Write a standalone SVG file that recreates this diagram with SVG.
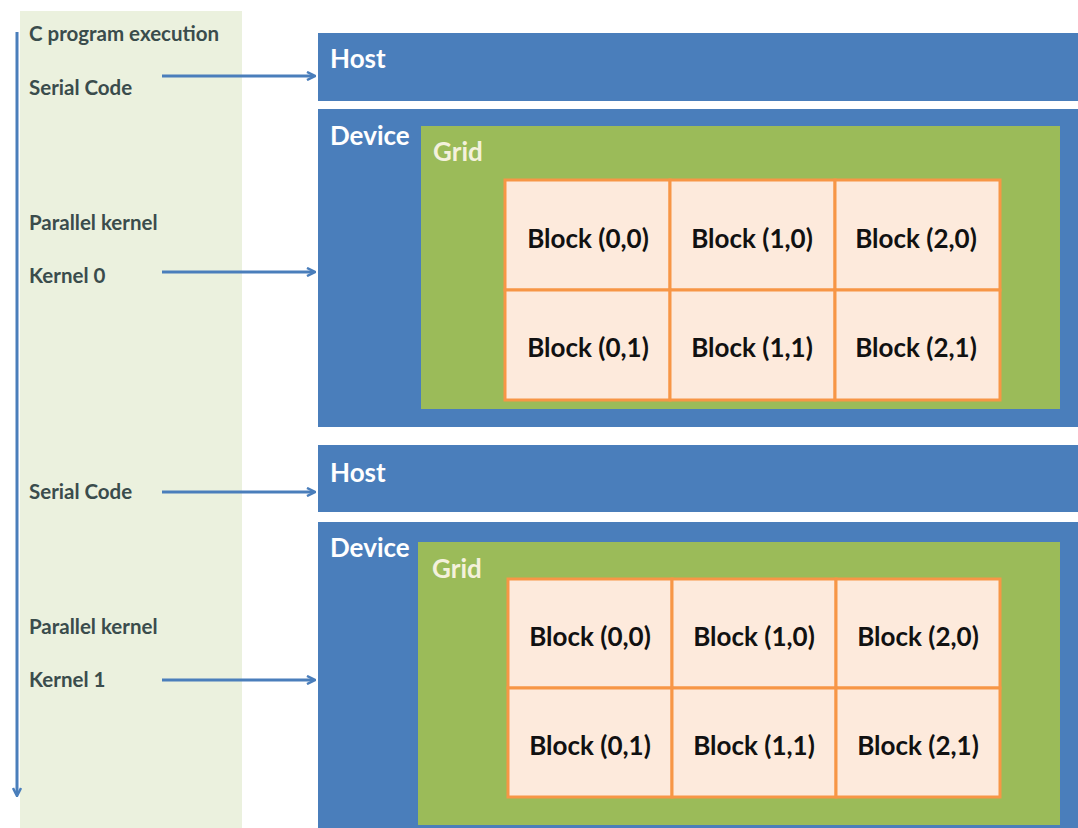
<svg xmlns="http://www.w3.org/2000/svg" width="1078" height="828" viewBox="0 0 1078 828">
<style>
.lbl{font-family:Lato,"Open Sans",sans-serif;font-weight:bold;font-size:20.5px;fill:#3a4c4c}
.hd{font-family:Lato,"Open Sans",sans-serif;font-weight:bold;font-size:26px;fill:#ffffff}
.gd{font-family:Lato,"Open Sans",sans-serif;font-weight:bold;font-size:26px;fill:#f4f1dc}
.blk{font-family:Lato,"Open Sans",sans-serif;font-weight:bold;font-size:26px;fill:#111111;text-anchor:middle}
.blue{fill:#4a7ebb}
.green{fill:#9bbb59}
.cell{fill:#fdeadc;stroke:#f79646;stroke-width:3}
.conn{stroke:#4a7ebb;stroke-width:3;fill:none}
</style>
<defs>
<marker id="ah" markerWidth="10" markerHeight="10" refX="8" refY="5" orient="auto" markerUnits="userSpaceOnUse">
<path d="M1,1 L9,5 L1,9" fill="none" stroke="#4a7ebb" stroke-width="2.5"/>
</marker>
</defs>
<rect width="1078" height="828" fill="#ffffff"/>
<g id="timeline">
<rect x="20" y="11" width="222" height="817" fill="#ebf1de"/>
<text class="lbl" x="29" y="41">C program execution</text>
<text class="lbl" x="29" y="95">Serial Code</text>
<text class="lbl" x="29" y="230">Parallel kernel</text>
<text class="lbl" x="29" y="283">Kernel 0</text>
<text class="lbl" x="29" y="499">Serial Code</text>
<text class="lbl" x="29" y="634">Parallel kernel</text>
<text class="lbl" x="29" y="687">Kernel 1</text>
</g>
<g id="host1">
<rect class="blue" x="318" y="33" width="760" height="68"/>
<text class="hd" x="330" y="68">Host</text>
</g>
<g id="device1">
<rect class="blue" x="318" y="109" width="760" height="318"/>
<text class="hd" x="330" y="145">Device</text>
<g id="grid1">
<rect class="green" x="421" y="126" width="639" height="283"/>
<text class="gd" x="433" y="161">Grid</text>
<rect class="cell" x="505" y="180" width="165" height="110"/>
<rect class="cell" x="670" y="180" width="165" height="110"/>
<rect class="cell" x="835" y="180" width="165" height="110"/>
<rect class="cell" x="505" y="290" width="165" height="110"/>
<rect class="cell" x="670" y="290" width="165" height="110"/>
<rect class="cell" x="835" y="290" width="165" height="110"/>
<text class="blk" x="588" y="248">Block (0,0)</text>
<text class="blk" x="752" y="248">Block (1,0)</text>
<text class="blk" x="916" y="248">Block (2,0)</text>
<text class="blk" x="588" y="357">Block (0,1)</text>
<text class="blk" x="752" y="357">Block (1,1)</text>
<text class="blk" x="916" y="357">Block (2,1)</text>
</g>
</g>
<g id="host2">
<rect class="blue" x="318" y="445" width="760" height="67"/>
<text class="hd" x="330" y="482">Host</text>
</g>
<g id="device2">
<rect class="blue" x="318" y="522" width="760" height="306"/>
<text class="hd" x="330" y="557">Device</text>
<g id="grid2">
<rect class="green" x="418" y="542" width="642" height="283"/>
<text class="gd" x="432" y="578">Grid</text>
<rect class="cell" x="508" y="579" width="164" height="109"/>
<rect class="cell" x="672" y="579" width="164" height="109"/>
<rect class="cell" x="836" y="579" width="164" height="109"/>
<rect class="cell" x="508" y="688" width="164" height="109"/>
<rect class="cell" x="672" y="688" width="164" height="109"/>
<rect class="cell" x="836" y="688" width="164" height="109"/>
<text class="blk" x="590" y="646">Block (0,0)</text>
<text class="blk" x="754" y="646">Block (1,0)</text>
<text class="blk" x="918" y="646">Block (2,0)</text>
<text class="blk" x="590" y="755">Block (0,1)</text>
<text class="blk" x="754" y="755">Block (1,1)</text>
<text class="blk" x="918" y="755">Block (2,1)</text>
</g>
</g>
<g id="connectors">
<line class="conn" x1="17" y1="32" x2="17" y2="795" marker-end="url(#ah)"/>
<line class="conn" x1="162" y1="76" x2="314" y2="76" marker-end="url(#ah)"/>
<line class="conn" x1="162" y1="272" x2="314" y2="272" marker-end="url(#ah)"/>
<line class="conn" x1="162" y1="492" x2="314" y2="492" marker-end="url(#ah)"/>
<line class="conn" x1="162" y1="680" x2="314" y2="680" marker-end="url(#ah)"/>
</g>
</svg>
